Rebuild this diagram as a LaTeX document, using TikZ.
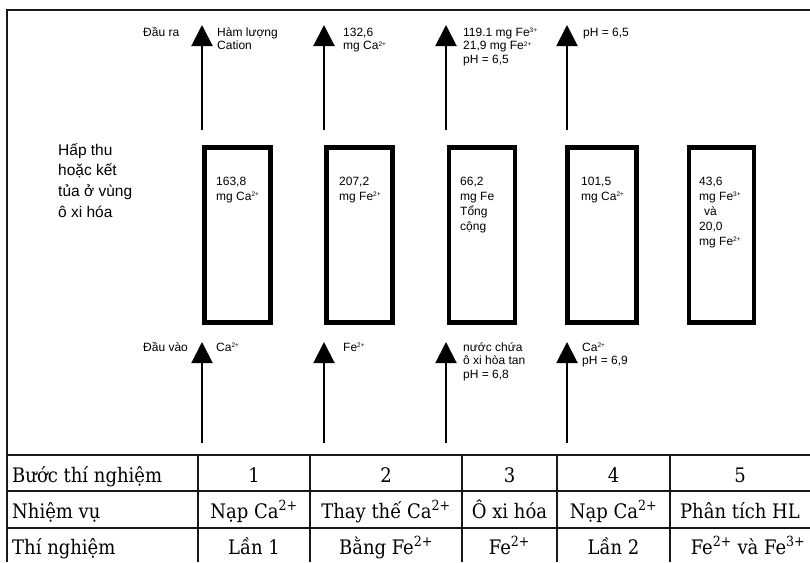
\documentclass[tikz,border=0pt]{standalone}
\usepackage{fontspec}
\setmainfont{Liberation Sans}
\newfontfamily\tabfont{DejaVu Serif Condensed}
\usetikzlibrary{arrows.meta}
\newcommand{\chg}[1]{\raisebox{0.55ex}{\fontsize{6.5}{6.5}\selectfont #1}}

\begin{document}
\begin{tikzpicture}[x=1pt, y=-1pt,
		lbl/.style={anchor=north west, inner sep=0pt, align=left, font=\fontsize{12}{13.5}\selectfont},
		boxtxt/.style={anchor=north west, inner sep=0pt, align=left, font=\fontsize{12}{15}\selectfont},
		flow/.style={line width=2pt, -{Triangle[width=21pt,length=21pt]}},
		cell/.style={anchor=base, inner sep=0pt, font=\tabfont\fontsize{20}{20}\selectfont},
		rim/.style={line width=2pt, color=black!90}]
		%%%%% START %%%%%
		\useasboundingbox (0, 0) rectangle (810, 562);
		
		\draw[rim] (7, 562) -- (7, 10) -- (810, 10);
		
		% output arrows
		\coordinate (o1s) at (202, 130); \coordinate (o1t) at (202, 25);
		\coordinate (o2s) at (324, 130); \coordinate (o2t) at (324, 25);
		\coordinate (o3s) at (446, 130); \coordinate (o3t) at (446, 25);
		\coordinate (o4s) at (567, 130); \coordinate (o4t) at (567, 25);
		\draw[flow] (o1s) -- (o1t);
		\draw[flow] (o2s) -- (o2t);
		\draw[flow] (o3s) -- (o3t);
		\draw[flow] (o4s) -- (o4t);
		
		\node[lbl] (outhead) at (143, 26.5) {\strut Đầu ra};
		\node[lbl] (out1) at (217, 26.5) {\strut Hàm lượng\\Cation};
		\node[lbl] (out2) at (343, 26.5) {\strut 132,6\\mg Ca\chg{2+}};
		\node[lbl] (out3) at (463, 26.5) {\strut 119.1 mg Fe\chg{3+}\\21,9 mg Fe\chg{2+}\\pH = 6,5};
		\node[lbl] (out4) at (583, 26.5) {\strut pH = 6,5};
		
		% oxidation zone
		\node[anchor=north west, inner sep=0pt, align=left, font=\fontsize{15.5}{20.7}\selectfont] (sorp) at (58, 140.5) {\strut Hấp thu\\hoặc kết\\tủa ở vùng\\ô xi hóa};
		
		\draw[line width=4.5pt] (204.5, 147.5) rectangle (270.5, 322.5);
		\draw[line width=4.5pt] (326.5, 147.5) rectangle (392.5, 322.5);
		\draw[line width=4.5pt] (449, 147.5) rectangle (515, 322.5);
		\draw[line width=4.5pt] (567.5, 147.5) rectangle (636.5, 322.5);
		\draw[line width=4.5pt] (689, 147.5) rectangle (754, 322.5);
		
		\node[boxtxt] (val1) at (216, 174.5) {\strut 163,8\\mg Ca\chg{2+}};
		\node[boxtxt] (val2) at (339, 174.5) {\strut 207,2\\mg Fe\chg{2+}};
		\node[boxtxt] (val3) at (460, 174.5) {\strut 66,2\\mg Fe\\Tổng\\cộng};
		\node[boxtxt] (val4) at (581, 174.5) {\strut 101,5\\mg Ca\chg{2+}};
		\node[boxtxt] (val5) at (699, 174.5) {\strut 43,6\\mg Fe\chg{3+}\\\hspace*{5pt}và\\20,0\\mg Fe\chg{2+}};
		
		% input arrows
		\coordinate (i1s) at (202, 443); \coordinate (i1t) at (202, 342);
		\coordinate (i2s) at (324, 443); \coordinate (i2t) at (324, 342);
		\coordinate (i3s) at (446, 443); \coordinate (i3t) at (446, 342);
		\coordinate (i4s) at (567, 443); \coordinate (i4t) at (567, 342);
		\draw[flow] (i1s) -- (i1t);
		\draw[flow] (i2s) -- (i2t);
		\draw[flow] (i3s) -- (i3t);
		\draw[flow] (i4s) -- (i4t);
		
		\node[lbl] (inhead) at (143, 341.5) {\strut Đầu vào};
		\node[lbl] (in1) at (216, 341.5) {\strut Ca\chg{2+}};
		\node[lbl] (in2) at (343, 341.5) {\strut Fe\chg{2+}};
		\node[lbl] (in3) at (463, 341.5) {\strut nước chứa\\ô xi hòa tan\\pH = 6,8};
		\node[lbl] (in4) at (582, 341.5) {\strut Ca\chg{2+}\\pH = 6,9};
		
		% table
		\draw[rim] (7, 455) -- (810, 455);
		\draw[rim] (7, 491) -- (810, 491);
		\draw[rim] (7, 528) -- (810, 528);
		\draw[rim] (198, 455) -- (198, 562);
		\draw[rim] (310, 455) -- (310, 562);
		\draw[rim] (462, 455) -- (462, 562);
		\draw[rim] (557, 455) -- (557, 562);
		\draw[rim] (670, 455) -- (670, 562);
		
		\node[cell, anchor=base west] (r1) at (12, 482) {Bước thí nghiệm};
		\node[cell] (r1c1) at (254, 482) {1};
		\node[cell] (r1c2) at (386, 482) {2};
		\node[cell] (r1c3) at (509.5, 482) {3};
		\node[cell] (r1c4) at (613.5, 482) {4};
		\node[cell] (r1c5) at (740, 482) {5};
		
		\node[cell, anchor=base west] (r2) at (12, 518) {Nhiệm vụ};
		\node[cell] (r2c1) at (254, 518) {Nạp Ca\textsuperscript{2+}};
		\node[cell] (r2c2) at (386, 518) {Thay thế Ca\textsuperscript{2+}};
		\node[cell] (r2c3) at (509.5, 518) {Ô xi hóa};
		\node[cell] (r2c4) at (613.5, 518) {Nạp Ca\textsuperscript{2+}};
		\node[cell] (r2c5) at (740, 518) {Phân tích HL};
		
		\node[cell, anchor=base west] (r3) at (12, 554) {Thí nghiệm};
		\node[cell] (r3c1) at (254, 554) {Lần 1};
		\node[cell] (r3c2) at (386, 554) {Bằng Fe\textsuperscript{2+}};
		\node[cell] (r3c3) at (509.5, 554) {Fe\textsuperscript{2+}};
		\node[cell] (r3c4) at (613.5, 554) {Lần 2};
		\node[cell] (r3c5) at (748, 554) {Fe\textsuperscript{2+} và Fe\textsuperscript{3+}};
		
		%%%%% END %%%%%
	\end{tikzpicture}
\end{document}
